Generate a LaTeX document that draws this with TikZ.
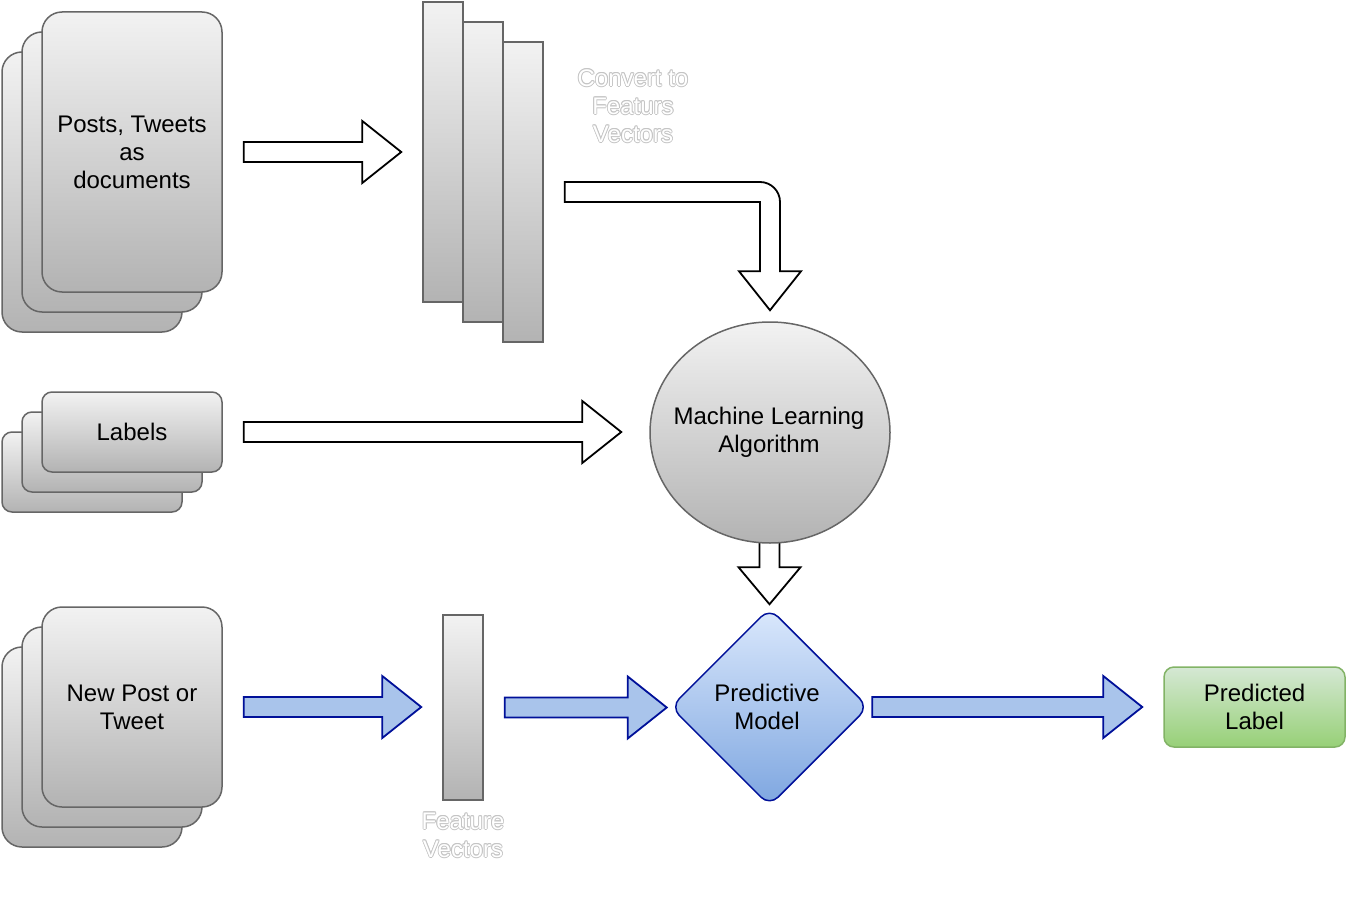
\documentclass[tikz,border=0pt]{standalone}
\usepackage{fontspec}
\setmainfont{Liberation Sans}
\usetikzlibrary{shapes.geometric,calc,backgrounds}
\definecolor{gtop}{HTML}{F2F2F2}
\definecolor{gbot}{HTML}{B3B3B3}
\definecolor{gstroke}{HTML}{666666}
\definecolor{btop}{HTML}{DAE8FC}
\definecolor{bbot}{HTML}{7EA6E0}
\definecolor{bfill}{HTML}{A9C4EB}
\definecolor{dblue}{HTML}{001099}
\definecolor{gntop}{HTML}{D5E8D4}
\definecolor{gnbot}{HTML}{97D077}
\definecolor{gnstroke}{HTML}{82B366}
\definecolor{ocol}{HTML}{C4C4C4}
\newcommand\lbl{\fontsize{24}{28}\selectfont}
\newcommand\harrow[3]{\draw[#3] let \p1=(#1), \p2=(#2) in
  (\x1,\y1+10pt) -- (\x2-39pt,\y1+10pt) -- (\x2-39pt,\y1+31pt) -- (\x2,\y1) --
  (\x2-39pt,\y1-31pt) -- (\x2-39pt,\y1-10pt) -- (\x1,\y1-10pt) -- cycle;}
\newcommand\outlinetext[3]{%
  \foreach \d in {0,45,...,315} \node[otext, text=ocol] at ($(#1)+(\d:0.9)$) {#3};
  \node[otext, text=white] (#2) at (#1) {#3};}
\begin{document}
\begin{tikzpicture}[x=1pt,y=-1pt,
  doc/.style={draw=gstroke, line width=1.5pt, top color=gtop, bottom color=gbot,
    rounded corners=20pt, inner sep=0pt, font=\lbl, align=center,
    minimum width=180pt},
  fv/.style={draw=gstroke, line width=1.5pt, top color=gtop, bottom color=gbot,
    inner sep=0pt, minimum width=40pt, minimum height=300pt},
  otext/.style={font=\lbl, align=center, inner sep=0pt},
  txt/.style={font=\lbl, align=center, inner sep=0pt},
  blk/.style={draw=black, line width=1.8pt, fill=white, line join=miter},
  blu/.style={draw=dblue, line width=1.8pt, fill=bfill, line join=miter}]
\useasboundingbox (0,0) rectangle (1348,904);

% Posts stack
\node[doc, minimum height=280pt] (p3) at (92,192) {};
\node[doc, minimum height=280pt] (p2) at (112,172) {};
\node[doc, minimum height=280pt] (p1) at (132,152) {Posts, Tweets\\as\\documents};

% Labels stack
\node[doc, rounded corners=10pt, minimum height=80pt] (l3) at (92,472) {};
\node[doc, rounded corners=10pt, minimum height=80pt] (l2) at (112,452) {};
\node[doc, rounded corners=10pt, minimum height=80pt] (l1) at (132,432) {Labels};

% New post stack
\node[doc, minimum height=200pt] (n3) at (92,747) {};
\node[doc, minimum height=200pt] (n2) at (112,727) {};
\node[doc, minimum height=200pt] (n1) at (132,707) {New Post or\\Tweet};

% Feature vectors (top)
\node[fv] (f1) at (443,152) {};
\node[fv] (f2) at (483,172) {};
\node[fv] (f3) at (523,192) {};

% Feature vector (bottom)
\node[fv, minimum height=185pt] (fb) at (463,707.5) {};

% ML algorithm
\node[ellipse, draw=gstroke, line width=1.5pt, top color=gtop, bottom color=gbot,
  minimum width=240pt, minimum height=221pt, inner sep=0pt]
  (ml) at (770,432.5) {};
\node[txt] (mlt) at (769,432) {Machine Learning\\Algorithm};

% Predictive model
\node[diamond, draw=dblue, line width=1.5pt, top color=btop, bottom color=bbot,
  rounded corners=12pt, minimum width=198pt, minimum height=198pt, inner sep=0pt]
  (pm) at (769.5,707) {};
\node[txt] (pmt0) at (767,707) {Predictive\\Model};

% Predicted label
\node[draw=gnstroke, line width=1.5pt, top color=gntop, bottom color=gnbot,
  rounded corners=10pt, minimum width=181pt, minimum height=80pt, inner sep=0pt,
  font=\lbl, align=center] (pl) at (1254.5,707) {Predicted\\Label};

% Outlined labels
\coordinate (ctext) at (633,106);
\outlinetext{ctext}{conv}{Convert to\\Featurs\\Vectors}
\coordinate (ftext) at (463,835);
\outlinetext{ftext}{fvl}{Feature\\Vectors}

% Connectors (block arrows)
\coordinate (a1s) at ($(p1.east)+(21,0)$);
\coordinate (a1e) at ($(f1.west)+(-21,0)$);
\harrow{a1s}{a1e}{blk}

\coordinate (a2s) at ($(l1.east)+(21,0)$);
\coordinate (a2e) at ($(ml.west)+(-28,0)$);
\harrow{a2s}{a2e}{blk}

\coordinate (bs) at ($(f3.east)+(21,0)$);
\coordinate (bt) at ($(ml.north)+(0,-11)$);
\draw[blk] let \p1=(bs), \p2=(bt) in
  (\x1,\y1+10pt) [rounded corners=20pt]-- (\x2+10pt,\y1+10pt) [sharp corners]--
  (\x2+10pt,\y2+39pt) -- (\x2+31pt,\y2+39pt) -- (\x2,\y2) -- (\x2-31pt,\y2+39pt) --
  (\x2-10pt,\y2+39pt) -- (\x2-10pt,\y1-10pt) -- (\x1,\y1-10pt) -- cycle;

\coordinate (pmt) at ($(pm.north)+(0,-3)$);
\begin{scope}[on background layer]
\draw[blk] let \p1=(ml.south), \p2=(pmt) in
  (\x2-10pt,\y1+4pt) -- (\x2-10pt,\y2+37pt) -- (\x2-31pt,\y2+37pt) -- (\x2,\y2) --
  (\x2+31pt,\y2+37pt) -- (\x2+10pt,\y2+37pt) -- (\x2+10pt,\y1+4pt) -- cycle;
\end{scope}

\coordinate (b1s) at ($(n1.east)+(21,0)$);
\coordinate (b1e) at ($(fb.west)+(-21,0)$);
\harrow{b1s}{b1e}{blu}

\coordinate (b2s) at ($(fb.east)+(21,0)$);
\coordinate (b2e) at ($(pm.west)+(-3,0)$);
\harrow{b2s}{b2e}{blu}

\coordinate (b3s) at ($(pm.east)+(3,0)$);
\coordinate (b3e) at ($(pl.west)+(-21,0)$);
\harrow{b3s}{b3e}{blu}
\end{tikzpicture}
\end{document}
